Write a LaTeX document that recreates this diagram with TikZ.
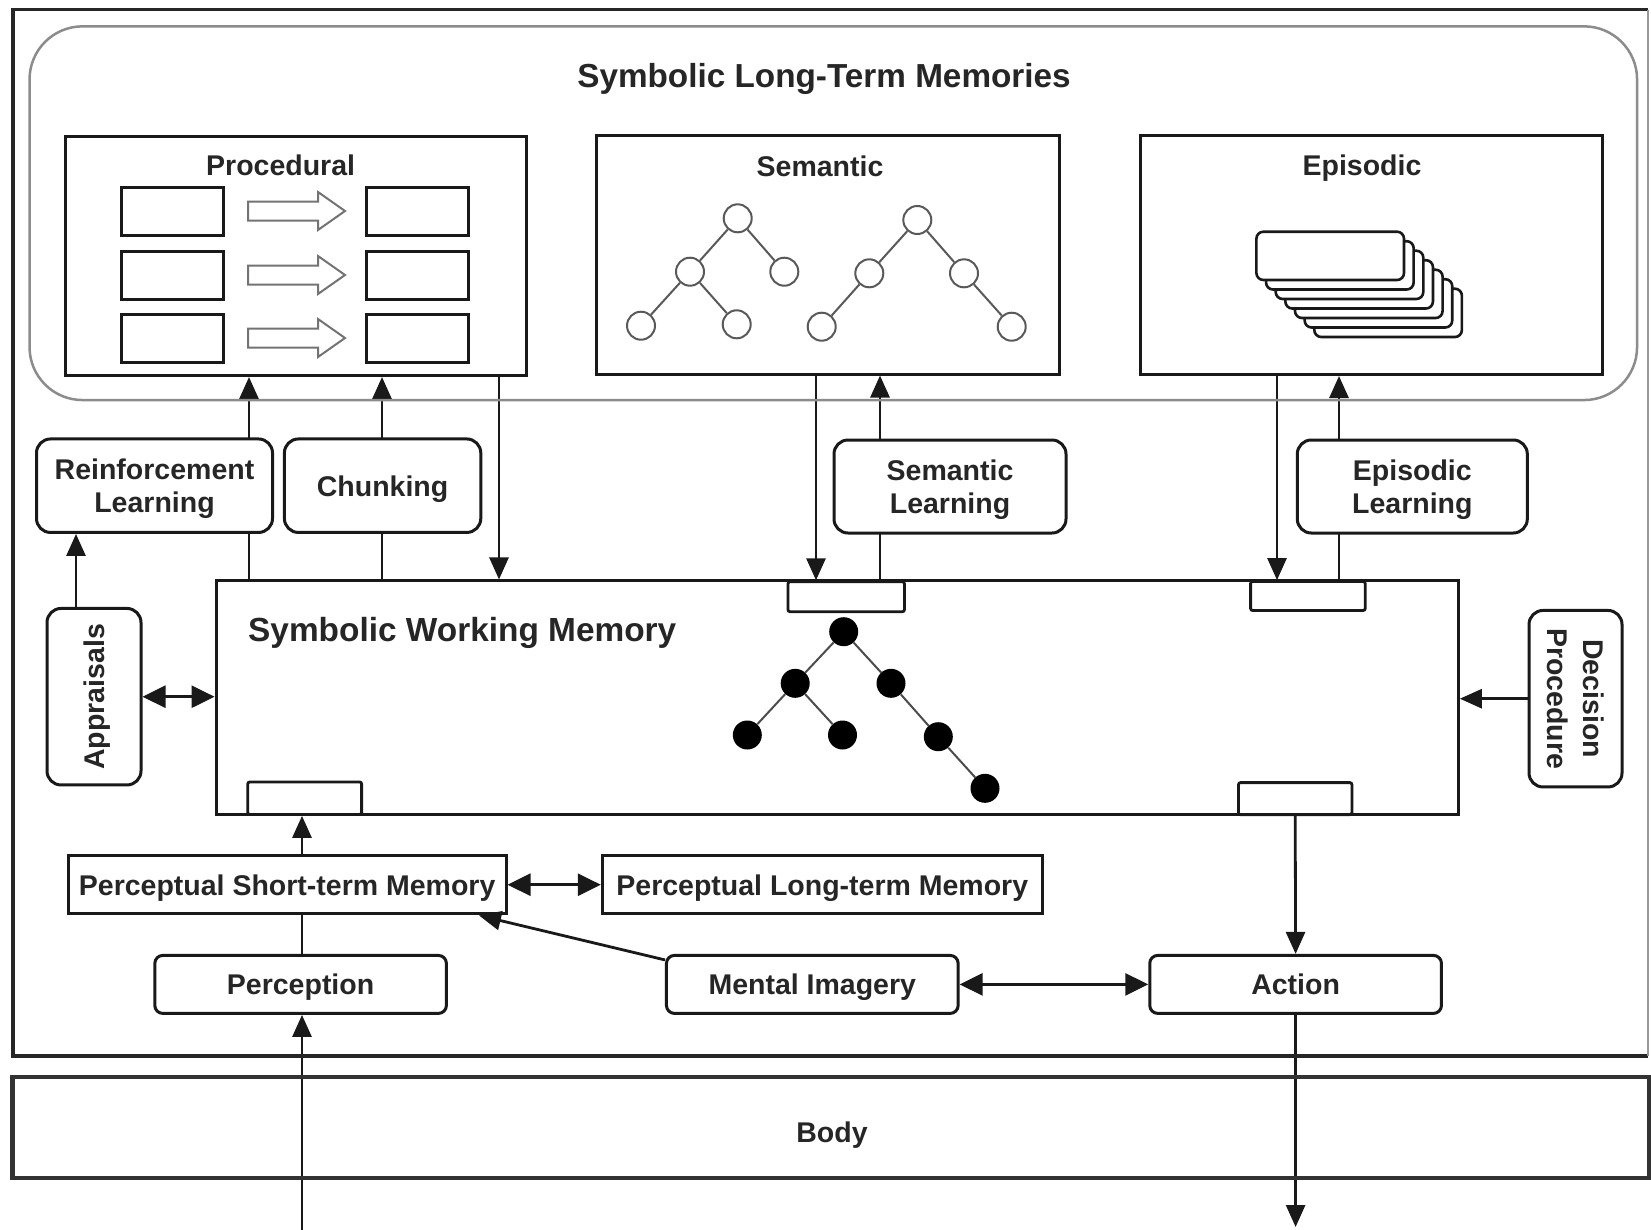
\documentclass[tikz,border=0pt]{standalone}
\usepackage{fontspec}
\setmainfont{Liberation Sans}
\usetikzlibrary{arrows.meta,backgrounds,calc}
\begin{document}
\begin{tikzpicture}[x=1pt,y=-1pt,
  every node/.style={font=\fontsize{28.5}{33}\selectfont\bfseries, text=black!85},
  box/.style={draw=black!90, line width=3pt, fill=white, inner sep=0pt, align=center, text depth=0pt},
  rbox/.style={box, rounded corners=14pt},
  sbox/.style={box, rounded corners=8pt},
  buf/.style={draw=black!90, line width=2.8pt, fill=white, inner sep=0pt, rounded corners=2pt},
  lbl/.style={inner sep=0pt},
  conn/.style={line width=2.8pt, draw=black!90, -{Triangle[length=22pt,width=19pt]}},
  dconn/.style={line width=2.8pt, draw=black!90, {Triangle[length=23pt,width=22pt]}-{Triangle[length=23pt,width=22pt]}},
  scirc/.style={circle, draw=black!65, line width=2pt, minimum size=28pt, inner sep=0pt, fill=white},
  fcirc/.style={circle, fill=black, minimum size=29pt, inner sep=0pt},
  tline/.style={line width=2pt, draw=black!65},
  fline/.style={line width=2pt, draw=black!70},
  blockarrow/.style={draw=black!55, line width=2pt, fill=white},
  card/.style={draw=black!90, line width=2.6pt, fill=white, rounded corners=7pt}
]
\useasboundingbox (0,0) rectangle (1651,1229);
\clip (0,0) rectangle (1651,1229);

% outer frame
\draw[line width=3.5pt, black!85] (1648,9.5) -- (13,9.5) -- (13,1056) -- (1648,1056);
\draw[line width=1.5pt, black!40] (1648,9.5) -- (1648,1056);

% body
\draw[line width=4.5pt, black!80] (12.6,1077) rectangle (1649,1178);
\node[lbl] (bodyT) at (832,1135) {Body};

% long-term memory container
\node[draw=black!45, line width=2.5pt, rounded corners=53pt, minimum width=1607.5pt, minimum height=373.7pt, inner sep=0pt] (ltm) at (833.3,213.2) {};
\node[lbl, font=\fontsize{33.3}{38}\selectfont\bfseries] (ltmT) at (824,79) {Symbolic Long-Term Memories};

% LTM boxes
\node[box, minimum width=461.5pt, minimum height=239pt] (proc) at (295.8,256) {};
\node[box, minimum width=462.5pt, minimum height=239pt] (sem) at (828.2,254.5) {};
\node[box, minimum width=462pt, minimum height=239pt] (epi) at (1371.3,255) {};
\node[lbl] (procT) at (280.6,165) {Procedural};
\node[lbl] (semT) at (820,166) {Semantic};
\node[lbl] (epiT) at (1362,168) {Episodic};

% procedural rules
\foreach \r/\c in {1/211,2/275,3/338}{
  \node[draw=black!90, line width=3pt, minimum width=102pt, minimum height=48pt, inner sep=0pt] (pl\r) at (172,\c) {};
  \node[draw=black!90, line width=3pt, minimum width=102pt, minimum height=48pt, inner sep=0pt] (pr\r) at (417.5,\c) {};
  \draw[blockarrow] (248,\c-9.5) -- (318,\c-9.5) -- (318,\c-19) -- (345,\c) -- (318,\c+19) -- (318,\c+9.5) -- (248,\c+9.5) -- cycle;
}

% semantic trees
\node[scirc] (s1) at (737.7,218.3) {};
\node[scirc] (s2) at (690,271.7) {};
\node[scirc] (s3) at (784.3,271.7) {};
\node[scirc] (s4) at (641,325.7) {};
\node[scirc] (s5) at (736.7,324.3) {};
\draw[tline] (s1) -- (s2); \draw[tline] (s1) -- (s3);
\draw[tline] (s2) -- (s4); \draw[tline] (s2) -- (s5);
\node[scirc] (t1) at (917.3,220) {};
\node[scirc] (t2) at (869.3,273.3) {};
\node[scirc] (t3) at (964,273.3) {};
\node[scirc] (t4) at (821.7,326.7) {};
\node[scirc] (t5) at (1011.7,326.7) {};
\draw[tline] (t1) -- (t2); \draw[tline] (t1) -- (t3);
\draw[tline] (t2) -- (t4); \draw[tline] (t3) -- (t5);

% episodic stack
\foreach \i in {6,5,4,3,2,1,0}{
  \draw[card] (1256.4+9.65*\i,231.7+9.5*\i) rectangle ++(147.6,48.3);
}

% working memory
\node[box, fill=none, minimum width=1242.3pt, minimum height=233.5pt] (swm) at (837.2,697.7) {};
\node[lbl, anchor=west, font=\fontsize{33.4}{38}\selectfont\bfseries] (swmT) at (248,633) {Symbolic Working Memory};
\node[buf, minimum width=116.4pt, minimum height=30pt] (bsem) at (846.2,596.7) {};
\node[buf, minimum width=114.6pt, minimum height=29pt] (bepi) at (1307.9,596) {};
\node[buf, minimum width=113.8pt, minimum height=32.5pt] (bper) at (304.7,798.2) {};
\node[buf, minimum width=113.4pt, minimum height=32pt] (bact) at (1295.2,798.6) {};

% filled tree
\node[fcirc] (w1) at (843.7,631.7) {};
\node[fcirc] (w2) at (795.2,683.3) {};
\node[fcirc] (w3) at (891,683.3) {};
\node[fcirc] (w4) at (747.3,735) {};
\node[fcirc] (w5) at (842.5,735) {};
\node[fcirc] (w6) at (938.3,736.7) {};
\node[fcirc] (w7) at (985,788.3) {};
\draw[fline] (w1) -- (w2); \draw[fline] (w1) -- (w3);
\draw[fline] (w2) -- (w4); \draw[fline] (w2) -- (w5);
\draw[fline] (w3) -- (w6); \draw[fline] (w6) -- (w7);

% learning boxes
\node[rbox, minimum width=236pt, minimum height=93.5pt] (rl) at (154.5,485.7) {Reinforcement\\Learning};
\node[rbox, minimum width=196.4pt, minimum height=93.5pt] (chunk) at (382.6,485.7) {Chunking};
\node[rbox, minimum width=232pt, minimum height=93pt] (seml) at (950,486.5) {Semantic\\Learning};
\node[rbox, minimum width=230pt, minimum height=93pt] (epil) at (1412.3,486.5) {Episodic\\Learning};

% side boxes
\node[rbox, minimum width=176.5pt, minimum height=94pt, rotate=90] (appr) at (94,696.7) {Appraisals};
\node[rbox, minimum width=176.5pt, minimum height=93pt, rotate=-90, font=\fontsize{28.5}{36}\selectfont\bfseries] (dec) at (1575.5,698.7) {Decision\\Procedure};

% perceptual / motor
\node[box, minimum width=437.6pt, minimum height=58.5pt] (pstm) at (287.2,884.7) {Perceptual Short-term Memory};
\node[box, minimum width=440pt, minimum height=58.5pt] (pltm) at (822.3,884.7) {Perceptual Long-term Memory};
\node[sbox, minimum width=291.6pt, minimum height=58pt] (perc) at (300.6,984.4) {Perception};
\node[sbox, minimum width=291.7pt, minimum height=58pt] (mi) at (812.3,984.4) {Mental Imagery};
\node[sbox, minimum width=291.7pt, minimum height=58pt] (act) at (1295.6,984.4) {Action};

\coordinate (inp) at (300.6,1240);
\coordinate (outp) at (1295.6,1227);
\coordinate (miA) at ($(mi.north west)+(0,6)$);

\begin{scope}[on background layer]
  \fill[white] (0,0) rectangle (1651,1229);
  % procedural learning
  \draw[conn] (swm.north -| 249,0) -- (proc.south -| 249,0);
  \draw[conn] (swm.north -| 382,0) -- (proc.south -| 382,0);
  \draw[conn] (proc.south -| 499,0) -- (swm.north -| 499,0);
  % semantic
  \draw[conn] (sem.south -| 816,0) -- (bsem.north -| 816,0);
  \draw[conn] (bsem.north -| 880,0) -- (sem.south -| 880,0);
  % episodic
  \draw[conn] (epi.south -| 1277,0) -- (bepi.north -| 1277,0);
  \draw[conn] (bepi.north -| 1339,0) -- (epi.south -| 1339,0);
  % perception chain
  \draw[conn] (perc.north -| 302,0) -- (bper.south -| 302,0);
  \draw[conn] (inp -| 302,0) -- (perc.south -| 302,0);
  % action chain
  \draw[conn] (bact.south) -- (act.north);
  \draw[conn] (act.south) -- (outp);
\end{scope}

\draw[conn] (appr.east -| 76,0) -- (rl.south -| 76,0);
\draw[dconn] (appr.south) -- (swm.west |- appr.south);
\draw[conn] (dec.south) -- (swm.east |- dec.south);
\draw[dconn] (pstm.east) -- (pltm.west);
\draw[conn] (miA) -- (pstm.south -| 479,0);
\draw[dconn] (mi.east) -- (act.west);
\end{tikzpicture}
\end{document}
